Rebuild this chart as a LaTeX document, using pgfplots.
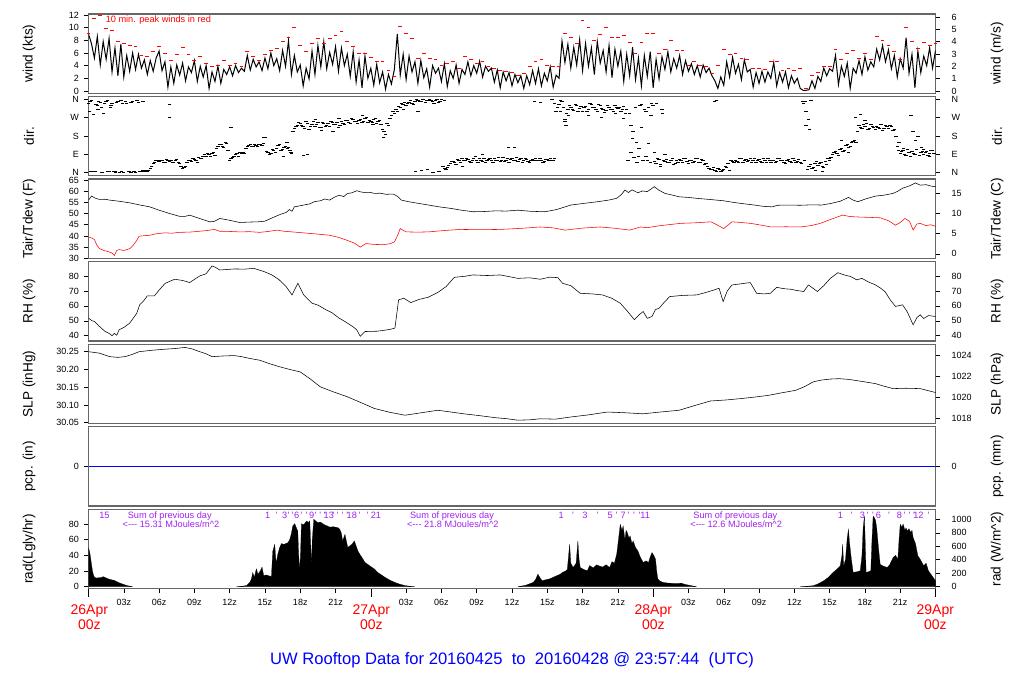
\documentclass[border=0pt]{standalone}
\usepackage{fontspec}
\setmainfont{Liberation Sans}
\usepackage{pgfplots}
\pgfplotsset{compat=1.18}
\definecolor{rpurple}{RGB}{160,32,240}
\definecolor{boxgray}{gray}{0.4}
\pgfplotsset{
  base/.style={scale only axis, width=847pt, height=79.3pt, xmin=0, xmax=72,
    anchor=south west, tick align=outside, major tick length=4.5pt,
    tick style={black, line width=0.5pt},
    ticklabel style={font=\fontsize{9}{10}\selectfont},
    label style={font=\fontsize{13.6}{15}\selectfont},
    /pgf/number format/assume math mode=true,
    /pgf/number format/1000 sep={}},
  lp/.style={base, xtick=\empty, ytick pos=left,
    axis line style={draw=boxgray, line width=1.2pt},
    yticklabel style={xshift=-1.5pt},
    xticklabel style={yshift=-3pt},
    ylabel style={at={(axis description cs:-0.0702,0.5)}, anchor=center}},
  rp/.style={base, axis x line=none, axis y line*=right, axis line style={draw=none},
    yticklabel style={xshift=8pt},
    ylabel style={at={(axis description cs:1.0726,0.5)}, anchor=center}},
}
\tikzset{pl/.style={text=rpurple, font=\fontsize{9.2}{10}\selectfont, anchor=base, inner sep=0pt}}
\begin{document}
\begin{tikzpicture}
\path[use as bounding box] (0,0) rectangle (1024pt,700pt);

% ---------------- wind
\begin{axis}[lp, at={(88.5pt,606.7pt)}, ymin=-0.37, ymax=12.16, ytick={0,2,...,12}, ylabel={wind (kts)}]
\addplot[black, line width=1.0pt] table[x expr=\coordindex*0.25, y index=0, header=false, row sep=\\] {
9.0\\ 7.5\\ 5.2\\ 8.6\\ 4.1\\ 7.8\\ 5.0\\ 8.3\\ 3.0\\ 6.8\\ 2.4\\ 7.4\\ 2.2\\ 5.6\\ 3.1\\ 6.0\\
3.4\\ 5.8\\ 3.6\\ 4.9\\ 2.6\\ 4.8\\ 3.1\\ 5.2\\ 6.3\\ 3.2\\ 4.6\\ 0.6\\ 3.8\\ 1.2\\ 4.1\\ 2.5\\
4.4\\ 1.6\\ 3.8\\ 2.9\\ 4.8\\ 1.5\\ 3.9\\ 2.2\\ 4.0\\ 0.4\\ 3.0\\ 1.5\\ 3.9\\ 1.2\\ 3.4\\ 2.6\\
3.8\\ 2.4\\ 4.0\\ 2.9\\ 3.6\\ 3.1\\ 5.6\\ 3.3\\ 5.0\\ 3.8\\ 4.6\\ 3.2\\ 5.2\\ 3.5\\ 6.0\\ 4.0\\
5.1\\ 3.2\\ 6.4\\ 3.9\\ 7.9\\ 2.6\\ 5.6\\ 3.0\\ 4.1\\ 0.8\\ 3.6\\ 1.9\\ 6.3\\ 2.6\\ 7.2\\ 3.8\\
7.8\\ 3.5\\ 6.1\\ 4.2\\ 7.0\\ 3.1\\ 6.8\\ 4.0\\ 5.8\\ 2.3\\ 6.2\\ 1.4\\ 4.9\\ 0.5\\ 5.5\\ 2.0\\
3.6\\ 0.9\\ 4.2\\ 1.3\\ 3.0\\ 0.3\\ 2.6\\ 1.1\\ 3.4\\ 9.0\\ 2.5\\ 5.8\\ 1.8\\ 5.5\\ 3.0\\ 4.6\\
1.2\\ 4.8\\ 2.1\\ 3.5\\ 0.6\\ 4.0\\ 2.8\\ 3.6\\ 1.5\\ 4.3\\ 0.7\\ 3.2\\ 2.0\\ 4.1\\ 1.2\\ 3.4\\
2.6\\ 4.6\\ 2.4\\ 4.0\\ 2.8\\ 4.7\\ 2.2\\ 3.9\\ 3.1\\ 3.6\\ 1.4\\ 3.3\\ 0.5\\ 3.0\\ 1.6\\ 2.9\\
0.8\\ 2.6\\ 1.3\\ 2.4\\ 0.4\\ 2.4\\ 1.0\\ 3.2\\ 1.2\\ 3.5\\ 0.8\\ 2.8\\ 1.6\\ 3.8\\ 0.6\\ 2.5\\
2.0\\ 7.9\\ 4.5\\ 7.4\\ 3.6\\ 6.9\\ 4.1\\ 8.1\\ 3.2\\ 7.5\\ 3.9\\ 6.8\\ 2.6\\ 7.8\\ 4.4\\ 6.4\\
3.0\\ 7.2\\ 2.1\\ 6.6\\ 3.9\\ 6.3\\ 1.5\\ 5.8\\ 2.4\\ 6.9\\ 1.8\\ 5.2\\ 0.8\\ 5.6\\ 2.3\\ 6.2\\
0.5\\ 5.0\\ 1.9\\ 5.4\\ 3.4\\ 6.2\\ 3.0\\ 5.1\\ 3.6\\ 5.6\\ 2.6\\ 4.8\\ 3.1\\ 4.3\\ 2.6\\ 4.0\\
2.2\\ 4.1\\ 2.9\\ 3.6\\ 2.4\\ 1.6\\ 0.4\\ 2.2\\ 0.9\\ 4.6\\ 2.2\\ 5.3\\ 2.8\\ 4.2\\ 1.8\\ 4.9\\
3.0\\ 3.4\\ 0.6\\ 2.9\\ 1.2\\ 3.1\\ 1.4\\ 3.0\\ 2.0\\ 4.5\\ 0.8\\ 2.9\\ 1.4\\ 3.0\\ 0.5\\ 2.4\\
1.2\\ 2.0\\ 0.4\\ 0.1\\ 0.1\\ 0.2\\ 1.6\\ 0.4\\ 2.3\\ 1.5\\ 3.6\\ 2.4\\ 3.5\\ 3.1\\ 5.6\\ 1.0\\
3.9\\ 2.3\\ 4.4\\ 0.4\\ 3.6\\ 2.8\\ 4.8\\ 2.6\\ 5.4\\ 3.3\\ 4.6\\ 3.8\\ 6.6\\ 4.9\\ 7.2\\ 4.6\\
6.5\\ 3.5\\ 5.6\\ 2.2\\ 5.1\\ 3.6\\ 8.4\\ 2.8\\ 5.8\\ 0.5\\ 6.3\\ 2.9\\ 5.5\\ 4.0\\ 6.8\\ 3.6\\
6.4\\
};
\addplot[red, only marks, mark=-, mark size=1.9pt, mark options={line width=0.9pt}] table[x expr=\coordindex*0.5, y index=0, header=false, row sep=\\] {
9.1\\ 11.5\\ 11.9\\ 9.8\\ 9.6\\ 7.8\\ 7.5\\ 7.2\\ 7.0\\ 5.6\\
5.4\\ 6.2\\ 7.0\\ 6.0\\ 4.8\\ 5.7\\ 6.9\\ 5.7\\ 4.8\\ 5.5\\
4.3\\ 3.8\\ 4.1\\ 4.8\\ 4.1\\ 4.3\\ 3.8\\ 6.2\\ 5.4\\ 4.8\\
5.7\\ 6.4\\ 6.7\\ 7.8\\ 8.5\\ 10.0\\ 7.2\\ 6.2\\ 7.5\\ 8.3\\
7.5\\ 8.3\\ 8.8\\ 9.4\\ 7.8\\ 7.0\\ 5.9\\ 6.0\\ 5.3\\ 4.6\\
4.6\\ 3.2\\ 2.3\\ 10.2\\ 9.1\\ 8.3\\ 5.1\\ 5.9\\ 5.1\\ 4.9\\
4.1\\ 4.3\\ 4.6\\ 3.6\\ 5.4\\ 4.9\\ 4.3\\ 4.7\\ 3.8\\ 3.6\\
3.3\\ 3.1\\ 2.9\\ 2.5\\ 2.8\\ 3.8\\ 4.6\\ 4.9\\ 4.1\\ 3.8\\
3.8\\ 9.1\\ 8.5\\ 7.5\\ 11.1\\ 10.1\\ 8.0\\ 9.0\\ 10.1\\ 8.5\\
8.5\\ 8.7\\ 7.6\\ 5.9\\ 7.6\\ 9.1\\ 9.1\\ 5.9\\ 6.6\\ 8.0\\
6.4\\ 6.4\\ 4.1\\ 4.6\\ 4.1\\ 3.8\\ 2.8\\ 4.1\\ 6.6\\ 5.7\\
6.0\\ 5.1\\ 4.9\\ 3.6\\ 3.6\\ 3.4\\ 4.6\\ 4.6\\ 3.3\\ 3.6\\
3.3\\ 3.6\\ 0.4\\ 2.5\\ 3.0\\ 3.8\\ 3.9\\ 6.6\\ 4.9\\ 5.9\\
6.4\\ 5.1\\ 5.9\\ 4.9\\ 8.6\\ 8.0\\ 7.2\\ 6.2\\ 4.9\\ 10.0\\
7.8\\ 6.7\\ 7.6\\ 7.2\\ 7.5\\
};
\node[red, anchor=base west, inner sep=0pt, font=\fontsize{9.2}{10}\selectfont] at (axis cs:1.45,10.78) {10 min. peak winds in red};
\end{axis}
\begin{axis}[rp, at={(88.5pt,606.7pt)}, ymin=-0.19, ymax=6.256, ytick={0,1,...,6}, ylabel={wind (m/s)}]
\end{axis}

% ---------------- direction
\begin{axis}[lp, at={(88.5pt,524.15pt)}, ymin=-15.4, ymax=373.5, ytick={0,90,180,270,360}, yticklabels={N,E,S,W,N}, ylabel={dir.}]
\addplot[black, only marks, mark=-, mark size=1.7pt, mark options={line width=0.9pt}] table[x expr=\coordindex*0.25, y index=0, header=false, row sep=\\] {
340\\ 352\\ 5\\ 330\\ 345\\ 290\\ 350\\ 8\\ 338\\ 4\\ 348\\ 355\\ 3\\ 342\\ 6\\ 350\\
2\\ 345\\ 8\\ 4\\ 6\\ 20\\ 45\\ 58\\ 55\\ 60\\ 52\\ 62\\ 58\\ 50\\ 64\\ 45\\
22\\ 30\\ 60\\ 55\\ 65\\ 50\\ 72\\ 80\\ 78\\ 90\\ 95\\ 85\\ 130\\ 138\\ 125\\ 145\\
60\\ 75\\ 88\\ 80\\ 95\\ 92\\ 130\\ 140\\ 128\\ 135\\ 140\\ 132\\ 175\\ 100\\ 95\\ 110\\
120\\ 140\\ 115\\ 130\\ 125\\ 95\\ 215\\ 230\\ 240\\ 225\\ 250\\ 210\\ 235\\ 228\\ 245\\ 220\\
240\\ 232\\ 225\\ 245\\ 238\\ 220\\ 250\\ 235\\ 255\\ 240\\ 262\\ 250\\ 258\\ 245\\ 265\\ 248\\
252\\ 260\\ 242\\ 255\\ 210\\ 190\\ 230\\ 280\\ 290\\ 300\\ 320\\ 335\\ 328\\ 345\\ 340\\ 350\\
355\\ 348\\ 358\\ 352\\ 360\\ 350\\ 355\\ 345\\ 358\\ 352\\ 25\\ 45\\ 55\\ 40\\ 62\\ 70\\
58\\ 65\\ 50\\ 72\\ 60\\ 68\\ 55\\ 48\\ 65\\ 58\\ 70\\ 62\\ 55\\ 75\\ 60\\ 50\\
68\\ 62\\ 57\\ 72\\ 60\\ 66\\ 52\\ 64\\ 70\\ 58\\ 62\\ 55\\ 65\\ 72\\ 60\\ 300\\
335\\ 350\\ 250\\ 310\\ 320\\ 305\\ 330\\ 315\\ 298\\ 325\\ 310\\ 335\\ 318\\ 300\\ 328\\ 312\\
305\\ 322\\ 310\\ 330\\ 315\\ 300\\ 325\\ 310\\ 290\\ 170\\ 320\\ 80\\ 335\\ 310\\ 60\\ 50\\
330\\ 45\\ 65\\ 310\\ 55\\ 48\\ 62\\ 40\\ 58\\ 65\\ 50\\ 70\\ 45\\ 62\\ 55\\ 68\\
52\\ 60\\ 45\\ 20\\ 15\\ 10\\ 22\\ 8\\ 18\\ 25\\ 12\\ 55\\ 62\\ 50\\ 68\\ 58\\
55\\ 70\\ 60\\ 48\\ 65\\ 52\\ 58\\ 72\\ 50\\ 62\\ 55\\ 68\\ 58\\ 45\\ 64\\ 52\\
60\\ 55\\ 48\\ 350\\ 230\\ 30\\ 20\\ 45\\ 35\\ 50\\ 25\\ 42\\ 60\\ 90\\ 105\\ 85\\
120\\ 110\\ 140\\ 130\\ 155\\ 150\\ 230\\ 215\\ 225\\ 210\\ 235\\ 220\\ 228\\ 215\\ 205\\ 232\\
218\\ 225\\ 210\\ 130\\ 95\\ 110\\ 85\\ 100\\ 105\\ 90\\ 180\\ 98\\ 88\\ 102\\ 92\\ 110\\
95\\
};
\addplot[black, only marks, mark=-, mark size=1.7pt, mark options={line width=0.9pt}] table[x expr=\coordindex*0.25+0.125, y index=0, header=false, row sep=\\] {
348\\ 6\\ 335\\ 350\\ 2\\ 340\\ 355\\ 320\\ 5\\ 345\\ 2\\ 340\\ 350\\ 8\\ 345\\ 4\\
355\\ 6\\ 350\\ 12\\ 10\\ 32\\ 50\\ 62\\ 60\\ 52\\ 66\\ 56\\ 52\\ 62\\ 48\\ 30\\
25\\ 52\\ 62\\ 68\\ 58\\ 75\\ 68\\ 88\\ 92\\ 82\\ 100\\ 120\\ 140\\ 128\\ 150\\ 110\\
68\\ 82\\ 92\\ 98\\ 100\\ 120\\ 135\\ 128\\ 140\\ 128\\ 138\\ 145\\ 105\\ 90\\ 115\\ 100\\
135\\ 110\\ 125\\ 150\\ 110\\ 200\\ 225\\ 245\\ 232\\ 215\\ 240\\ 228\\ 250\\ 238\\ 222\\ 248\\
228\\ 240\\ 252\\ 236\\ 245\\ 230\\ 242\\ 258\\ 248\\ 265\\ 252\\ 240\\ 262\\ 250\\ 270\\ 255\\
245\\ 265\\ 250\\ 238\\ 200\\ 240\\ 265\\ 300\\ 310\\ 325\\ 340\\ 345\\ 340\\ 352\\ 335\\ 358\\
350\\ 360\\ 345\\ 355\\ 352\\ 342\\ 360\\ 350\\ 30\\ 15\\ 35\\ 55\\ 48\\ 66\\ 52\\ 58\\
70\\ 55\\ 62\\ 80\\ 52\\ 62\\ 72\\ 58\\ 70\\ 52\\ 62\\ 75\\ 62\\ 55\\ 70\\ 66\\
58\\ 75\\ 64\\ 52\\ 70\\ 55\\ 62\\ 58\\ 62\\ 68\\ 50\\ 65\\ 58\\ 62\\ 70\\ 320\\
300\\ 320\\ 290\\ 330\\ 310\\ 335\\ 300\\ 325\\ 318\\ 300\\ 340\\ 322\\ 308\\ 335\\ 315\\ 295\\
328\\ 312\\ 300\\ 318\\ 322\\ 308\\ 290\\ 60\\ 230\\ 75\\ 50\\ 330\\ 60\\ 80\\ 320\\ 340\\
55\\ 70\\ 40\\ 58\\ 65\\ 52\\ 70\\ 45\\ 48\\ 60\\ 72\\ 55\\ 60\\ 50\\ 72\\ 48\\
65\\ 40\\ 30\\ 15\\ 25\\ 5\\ 18\\ 12\\ 30\\ 45\\ 62\\ 48\\ 55\\ 70\\ 52\\ 66\\
62\\ 50\\ 72\\ 58\\ 55\\ 68\\ 48\\ 62\\ 60\\ 52\\ 70\\ 58\\ 50\\ 62\\ 55\\ 68\\
52\\ 65\\ 45\\ 60\\ 15\\ 40\\ 28\\ 55\\ 45\\ 30\\ 55\\ 70\\ 75\\ 100\\ 95\\ 115\\
105\\ 135\\ 125\\ 150\\ 160\\ 200\\ 220\\ 235\\ 240\\ 215\\ 225\\ 210\\ 220\\ 235\\ 215\\ 225\\
230\\ 205\\ 180\\ 110\\ 105\\ 90\\ 115\\ 80\\ 95\\ 115\\ 85\\ 105\\ 100\\ 85\\ 110\\ 96\\
};
\addplot[black, only marks, mark=-, mark size=1.7pt, mark options={line width=0.9pt}] coordinates {
(0.2,4) (0.6,8) (1.2,3) (1.6,6) (2.3,2) (2.8,5) (3.6,3) (4.6,10) (0.1,300) (0.4,285) (0.8,310)
(1.1,320) (1.9,330) (6.9,336) (6.9,273) (12.1,224) (14.9,175) (16.3,110) (16.6,80) (16.9,120)
(17.2,100) (18.3,86) (18.6,90) (19.3,260) (19.8,205) (20.8,200) (21.3,265) (23.3,280) (24.2,235)
(25.1,175) (26.8,310) (27.8,5) (28.0,300) (28.3,10) (28.8,15) (29.3,3) (29.8,8) (30.3,20)
(31.8,30) (33.5,90) (35.7,126) (36.2,126) (37.9,350) (38.4,345) (39.4,360) (39.6,340) (40.1,355)
(40.5,260) (40.6,230) (40.8,283) (42.5,280) (43.6,270) (44.8,290) (45.5,265) (46.1,100) (46.3,200)
(46.6,150) (46.8,120) (47.0,224) (47.4,300) (47.6,145) (47.8,280) (48.1,100) (48.3,340) (48.6,30)
(48.8,290) (49.0,90) (53.2,350) (53.4,355) (60.8,340) (60.9,350) (61.0,300) (61.2,260) (61.3,210)
(61.4,355) (61.8,10) (62.4,5) (63.0,70) (64.0,160) (64.6,100) (65.2,270) (65.6,285) (66.0,258)
(68.9,150) (69.3,120) (69.9,280) (70.1,200) (70.3,160) (70.8,125) (71.0,115) (71.5,80)
};
\end{axis}
\begin{axis}[rp, at={(88.5pt,524.15pt)}, ymin=-15.4, ymax=373.5, ytick={0,90,180,270,360}, yticklabels={N,E,S,W,N}, ylabel={dir.}]
\end{axis}

% ---------------- temperature
\begin{axis}[lp, at={(88.5pt,441.6pt)}, ymin=29.96, ymax=65.4, ytick={30,35,...,65}, ylabel={Tair/Tdew (F)}]
\addplot[black, line width=0.55pt] coordinates {
(0,56.0) (0.26,57.8) (0.6,56.8) (0.94,56.3) (1.4,56.4) (1.8,56.0) (2.6,55.5) (3.5,54.8) (4.3,53.9)
(5.2,53.0) (6.0,51.5) (6.9,50.0) (7.7,48.8) (8.2,48.7) (8.6,49.3) (9.0,48.6) (9.45,47.8) (10.3,46.3)
(10.7,46.5) (11.15,47.8) (12.0,47.0) (12.85,46.0) (13.7,46.2) (14.4,46.3) (15.0,46.6) (15.8,48.5)
(16.3,49.6) (16.8,50.5) (17.1,51.8) (17.3,51.0) (17.5,53.0) (18.3,53.8) (18.8,54.3) (19.2,55.3)
(19.7,55.7) (20.1,56.5) (20.5,56.0) (20.9,57.3) (21.3,58.2) (21.7,57.6) (22.0,58.9) (22.4,59.3)
(22.8,60.2) (23.2,59.6) (23.6,59.3) (24.0,59.4) (24.3,59.0) (24.8,59.1) (25.3,58.6) (25.9,58.7)
(26.3,57.6) (26.6,56.0) (27.3,55.2) (28.1,54.5) (28.9,53.8) (29.8,53.0) (30.8,52.3) (31.7,51.5)
(32.7,50.8) (33.6,50.9) (34.6,51.2) (35.5,51.1) (36.5,51.5) (37.6,51.0) (38.8,50.8) (39.8,51.8)
(41.0,53.8) (42.2,54.6) (43.3,55.3) (44.2,56.0) (44.9,56.8) (45.3,58.5) (45.6,60.5) (45.9,59.4)
(46.2,60.6) (46.7,59.3) (47.1,60.1) (47.5,59.8) (48.1,62.0) (48.5,60.4) (49.0,59.0) (49.6,58.3)
(50.2,57.5) (51.0,57.2) (51.7,56.8) (52.8,56.3) (54.0,55.7) (54.8,55.0) (55.5,54.5) (56.6,53.8)
(57.4,53.2) (58.1,53.0) (58.6,53.7) (59.3,53.8) (60.5,53.7) (61.5,53.9) (62.3,53.8) (63.1,54.5)
(63.9,55.5) (64.6,57.2) (65.0,56.0) (65.4,55.3) (66.1,56.6) (66.9,57.8) (67.6,58.2) (68.4,59.0)
(68.8,60.0) (69.2,61.3) (69.8,62.4) (70.3,63.7) (70.7,62.7) (71.2,62.9) (71.6,62.3) (72.0,62.0)
};
\addplot[red, line width=0.55pt] coordinates {
(0,39.6) (0.3,39.0) (0.5,38.4) (0.7,36.0) (0.94,34.3) (1.3,33.5) (1.8,32.8) (2.0,32.3) (2.2,31.3)
(2.4,33.5) (2.6,33.9) (3.0,33.5) (3.5,34.3) (3.8,35.8) (4.1,38.0) (4.3,39.9) (5.2,40.3) (5.8,41.0)
(6.5,41.4) (7.1,41.2) (7.7,41.6) (8.6,41.7) (9.45,42.1) (10.1,42.4) (10.7,42.9) (11.15,42.1)
(12.0,42.0) (12.85,41.8) (13.7,41.9) (14.55,41.6) (15.3,42.0) (16.0,42.6) (16.6,42.1) (17.3,41.8)
(18.2,41.4) (19.3,40.9) (20.5,40.3) (21.3,39.3) (22.0,38.0) (22.6,36.8) (23.1,35.0) (23.6,36.6)
(24.3,36.2) (25.1,36.1) (25.6,36.5) (26.0,37.3) (26.3,40.5) (26.5,43.3) (27.0,41.8) (28.0,41.7)
(28.9,41.8) (30.2,42.4) (31.6,42.9) (33.3,42.8) (35.0,42.9) (36.8,43.4) (38.4,44.0) (39.5,43.6)
(40.5,42.6) (42.0,43.5) (43.5,44.0) (44.8,43.4) (46.0,42.6) (46.4,43.2) (46.9,44.0) (47.5,43.7)
(48.6,44.6) (50.3,45.6) (51.7,45.9) (52.9,46.3) (53.4,45.0) (54.0,43.3) (54.4,45.0) (54.7,46.3)
(55.5,46.0) (56.3,45.6) (57.2,44.8) (58.0,44.0) (59.3,44.1) (60.5,44.0) (61.4,44.6) (62.2,45.6)
(63.2,47.6) (64.1,49.3) (64.7,48.7) (65.2,48.5) (66.3,48.3) (67.3,48.1) (68.0,46.8) (68.6,44.8)
(69.0,46.0) (69.4,47.8) (69.8,46.5) (70.1,42.6) (70.4,45.3) (70.7,45.6) (71.2,44.6) (71.6,45.0)
(72.0,44.3)
};
\end{axis}
\begin{axis}[rp, at={(88.5pt,441.6pt)}, ymin=-1.133, ymax=18.556, ytick={0,5,10,15}, ylabel={Tair/Tdew (C)}]
\end{axis}

% ---------------- RH
\begin{axis}[lp, at={(88.5pt,359.05pt)}, ymin=36.5, ymax=89.6, ytick={40,50,...,80}, ylabel={RH (\%)}]
\addplot[black, line width=0.55pt] coordinates {
(0,51.8) (0.3,50.0) (0.5,49.6) (0.7,48.0) (0.94,46.2) (1.4,42.9) (1.8,41.3) (2.0,40.0) (2.2,41.5)
(2.4,40.3) (2.6,44.0) (3.0,45.5) (3.5,48.4) (4.1,55.0) (4.35,60.7) (4.7,63.5) (5.0,66.7) (5.6,66.7)
(6.0,70.5) (6.5,75.0) (7.32,77.8) (8.0,77.0) (8.6,75.6) (9.45,80.0) (10.0,81.5) (10.5,86.7)
(10.8,85.8) (11.15,84.0) (12.4,84.7) (13.3,84.6) (14.05,85.1) (14.9,83.0) (15.6,80.7) (16.2,77.5)
(16.8,72.9) (17.3,67.3) (17.8,75.1) (18.3,67.3) (19.0,61.8) (19.5,60.5) (20.2,57.3) (20.7,55.4)
(21.3,51.8) (21.8,49.5) (22.45,46.2) (22.8,44.0) (23.1,39.6) (23.5,42.8) (23.96,42.9) (24.5,43.0)
(25.1,43.6) (25.6,44.2) (26.05,45.1) (26.36,64.0) (26.8,65.1) (27.4,62.2) (28.1,64.3) (28.9,65.8)
(29.7,69.0) (30.4,72.9) (31.1,79.1) (32.0,79.8) (32.7,80.7) (33.9,80.3) (35.0,80.7) (35.8,79.5)
(36.5,78.4) (37.5,78.8) (38.4,77.8) (39.2,79.2) (39.9,78.9) (40.3,75.1) (41.0,73.5) (41.8,68.4)
(42.8,68.0) (43.7,67.3) (44.5,65.0) (45.2,61.8) (45.8,56.5) (46.4,50.7) (46.8,54.0) (47.15,56.2)
(47.5,51.6) (47.9,52.9) (48.2,57.5) (48.5,58.4) (48.9,62.0) (49.4,66.2) (50.5,67.0) (51.7,67.3)
(52.5,69.0) (53.2,70.7) (53.6,71.8) (53.95,62.9) (54.3,70.0) (54.7,74.0) (55.5,74.8) (56.25,75.6)
(56.8,68.4) (57.4,68.0) (57.96,68.4) (58.5,72.4) (59.1,71.5) (59.7,71.1) (60.2,70.3) (60.8,69.6)
(61.2,74.0) (61.96,69.6) (62.5,73.5) (63.06,78.4) (63.7,82.2) (64.2,80.8) (64.8,79.6) (65.3,77.4)
(65.75,78.4) (66.3,76.0) (66.9,74.0) (67.3,72.0) (67.7,69.6) (68.2,63.5) (68.6,59.6) (69.2,60.7)
(69.6,56.0) (70.1,47.3) (70.4,52.0) (70.7,54.0) (71.0,51.5) (71.4,53.5) (72.0,52.9)
};
\end{axis}
\begin{axis}[rp, at={(88.5pt,359.05pt)}, ymin=36.5, ymax=89.6, ytick={40,50,...,80}, ylabel={RH (\%)}]
\end{axis}

% ---------------- SLP
\begin{axis}[lp, at={(88.5pt,276.5pt)}, ymin=30.0477, ymax=30.2711, ytick={30.05,30.10,30.15,30.20,30.25},
  yticklabel style={/pgf/number format/.cd, fixed, fixed zerofill, precision=2}, ylabel={SLP (inHg)}]
\addplot[black, line width=0.55pt] coordinates {
(0,30.250) (0.9,30.246) (1.8,30.236) (2.5,30.234) (3.1,30.236) (3.7,30.242) (4.3,30.250) (5.4,30.254)
(6.5,30.257) (7.4,30.259) (8.2,30.262) (8.8,30.258) (9.45,30.250) (10.0,30.244) (10.5,30.236)
(11.5,30.238) (12.4,30.239) (13.0,30.236) (13.7,30.231) (14.55,30.226) (15.4,30.216) (16.3,30.207)
(17.1,30.200) (18.0,30.193) (18.9,30.172) (19.7,30.151) (20.8,30.137) (22.0,30.123) (23.2,30.106)
(24.3,30.090) (25.5,30.080) (26.9,30.071) (28.3,30.078) (29.7,30.085) (30.8,30.080) (31.9,30.075)
(33.2,30.070) (34.6,30.064) (35.6,30.061) (36.5,30.057) (37.5,30.058) (38.4,30.061) (39.7,30.060)
(41.0,30.066) (42.5,30.072) (44.1,30.080) (45.6,30.078) (47.15,30.075) (48.6,30.080) (50.2,30.085)
(51.5,30.098) (52.85,30.111) (54.2,30.114) (55.5,30.118) (56.6,30.122) (57.8,30.127) (58.9,30.134)
(60.1,30.141) (60.9,30.152) (61.6,30.165) (62.3,30.170) (63.1,30.173) (63.8,30.174) (64.6,30.172)
(65.8,30.166) (66.9,30.160) (67.6,30.153) (68.4,30.146) (69.5,30.147) (70.7,30.146) (71.4,30.140)
(72.0,30.135)
};
\end{axis}
\begin{axis}[rp, at={(88.5pt,276.5pt)}, ymin=1017.53, ymax=1025.10, ytick={1018,1020,1022,1024}, ylabel={SLP (hPa)}]
\end{axis}

% ---------------- precipitation
\begin{axis}[lp, at={(88.5pt,193.95pt)}, ymin=-1, ymax=1, ytick={0}, ylabel={pcp. (in)}]
\addplot[blue, line width=0.6pt] coordinates {(0,0) (72,0)};
\end{axis}
\begin{axis}[rp, at={(88.5pt,193.95pt)}, ymin=-1, ymax=1, ytick={0}, ylabel={pcp. (mm)}]
\end{axis}

% ---------------- radiation
\begin{axis}[lp, at={(88.5pt,111.4pt)}, ymin=-2.42, ymax=98.76, ytick={0,20,...,80}, ylabel={rad(Lgly/hr)},
  xtick={3,6,9,12,15,18,21,27,30,33,36,39,42,45,51,54,57,60,63,66,69},
  xticklabels={03z,06z,09z,12z,15z,18z,21z,03z,06z,09z,12z,15z,18z,21z,03z,06z,09z,12z,15z,18z,21z},
  xtick pos=bottom,
  extra x ticks={0,24,48,72}, extra x tick labels={}, extra x tick style={major tick length=8pt}]
\addplot[fill=black, draw=black, line width=0.2pt] coordinates {
(0,50) (0.09,45) (0.17,38) (0.23,31) (0.34,20) (0.42,15) (0.51,12) (0.7,11) (0.9,11.5) (1.08,11.8)
(1.28,12.8) (1.45,11.5) (1.6,10.5) (1.9,9) (2.2,8) (2.6,5) (3.06,2.5) (3.4,1) (3.75,0)
} \closedcycle;
\addplot[fill=black, draw=black, line width=0.2pt] coordinates {
(12.57,0) (13.0,0.5) (13.45,1.5) (13.7,5.4) (13.85,10) (13.96,18) (14.1,12) (14.27,23) (14.4,16)
(14.6,20) (14.75,25) (14.9,14) (15.1,15) (15.3,14) (15.55,13) (15.66,45) (15.83,54) (15.95,30)
(16.1,42) (16.25,50) (16.4,55) (16.6,54) (16.94,56) (17.1,60) (17.25,68) (17.36,77.5) (17.53,80.4)
(17.7,74) (17.79,71) (17.87,40) (17.96,20) (18.04,50) (18.1,80.4) (18.3,79) (18.53,83.8) (18.7,82)
(18.81,84) (18.9,50) (18.95,24.5) (19.02,60) (19.15,86) (19.3,84) (19.49,81.7) (19.7,82.5)
(20.09,78.7) (20.3,77.5) (20.5,76) (20.8,76.5) (21.2,75.4) (21.36,73.3) (21.5,68) (21.6,58.4)
(21.8,66.9) (22.04,50) (22.2,52) (22.4,54.2) (22.6,58.4) (22.75,52) (22.9,45.7) (23.06,41.5)
(23.3,36) (23.5,31) (23.9,26.7) (24.3,22.6) (24.6,18) (25.0,14) (25.2,12) (25.6,8.5) (26.0,5.7)
(26.4,3.5) (26.9,1.5) (27.3,0.6) (27.74,0)
} \closedcycle;
\addplot[fill=black, draw=black, line width=0.2pt] coordinates {
(36.5,0) (37.2,2) (37.8,5.5) (38.0,9) (38.2,16) (38.4,11) (38.55,7.6) (38.9,9) (39.2,10) (39.5,12)
(39.8,14) (40.1,16) (40.3,18.3) (40.55,20) (40.7,22) (40.9,54) (41.0,30) (41.2,24.5) (41.45,30)
(41.6,58.4) (41.7,35) (41.8,24.5) (42.1,22) (42.4,20.3) (42.6,27) (42.9,24) (43.2,27.9) (43.5,26)
(43.7,25) (44.0,28) (44.3,24.5) (44.5,32) (44.7,30) (44.9,41.5) (45.05,60) (45.2,79.6) (45.35,72)
(45.45,77.5) (45.6,60) (45.7,72) (45.8,69) (45.95,62) (46.04,64.8) (46.2,55) (46.3,58.4) (46.5,50)
(46.7,45.7) (46.9,38) (47.15,30.9) (47.4,33) (47.6,30.9) (47.75,38) (47.9,43.6) (48.05,40)
(48.2,35.1) (48.3,20) (48.4,9.7) (48.6,7) (48.85,5.5) (49.3,4.5) (50.0,4.2) (50.4,4.5) (50.7,3)
(51.2,1.5) (51.7,0)
} \closedcycle;
\addplot[fill=black, draw=black, line width=0.2pt] coordinates {
(60.5,0) (61.0,0.5) (61.6,1.3) (62.0,3.5) (62.5,7.6) (62.9,12) (63.3,18.3) (63.6,22) (63.9,26.7)
(64.05,40) (64.1,54.2) (64.2,26.7) (64.35,35) (64.5,62.6) (64.6,73.3) (64.7,55) (64.85,35)
(65.0,18.3) (65.3,19) (65.6,20.3) (65.75,40) (65.85,75.4) (65.96,90.2) (66.02,60) (66.1,18.3)
(66.3,19) (66.5,20.3) (66.6,60) (66.7,90.2) (66.8,88) (66.9,85) (67.0,75.4) (67.15,50) (67.3,28.4)
(67.6,26) (67.9,24.5) (68.1,28) (68.4,37.3) (68.6,40) (68.8,35.1) (68.9,60) (69.0,79.6) (69.15,76)
(69.25,80) (69.4,72) (69.5,75) (69.6,71.1) (69.75,74) (69.9,69) (70.0,72) (70.1,62.6) (70.3,55)
(70.5,39.4) (70.7,35) (71.0,26.7) (71.2,30) (71.4,20.3) (71.7,14) (72.0,7.6)
} \closedcycle;
% purple annotations
\node[pl] at (axis cs:1.36,87.5) {15};
\node[pl, anchor=base west] at (axis cs:3.32,87.5) {Sum of previous day};
\node[pl, anchor=base west] at (axis cs:2.89,75.5) {<-{}-{}- 15.31 MJoules/m\textasciicircum 2};
\node[pl, anchor=base west] at (axis cs:27.32,87.5) {Sum of previous day};
\node[pl, anchor=base west] at (axis cs:27.06,75.5) {<-{}-{}- 21.8 MJoules/m\textasciicircum 2};
\node[pl, anchor=base west] at (axis cs:51.40,87.5) {Sum of previous day};
\node[pl, anchor=base west] at (axis cs:51.15,75.5) {<-{}-{}- 12.6 MJoules/m\textasciicircum 2};
\node[pl] at (axis cs:15.23,87.5) {1};
\node[pl] at (axis cs:16.68,87.5) {3};
\node[pl] at (axis cs:17.70,87.5) {6};
\node[pl] at (axis cs:18.98,87.5) {9};
\node[pl] at (axis cs:20.43,87.5) {13};
\node[pl] at (axis cs:22.38,87.5) {18};
\node[pl] at (axis cs:24.43,87.5) {21};
\node[pl] at (axis cs:40.17,87.5) {1};
\node[pl] at (axis cs:42.21,87.5) {3};
\node[pl] at (axis cs:44.34,87.5) {5};
\node[pl] at (axis cs:45.45,87.5) {7};
\node[pl] at (axis cs:47.32,87.5) {11};
\node[pl] at (axis cs:63.91,87.5) {1};
\node[pl] at (axis cs:65.79,87.5) {3};
\node[pl] at (axis cs:67.15,87.5) {6};
\node[pl] at (axis cs:68.94,87.5) {8};
\node[pl] at (axis cs:70.55,87.5) {12};
\pgfplotsinvokeforeach{16.0,17.02,17.36,18.13,18.55,19.32,19.70,20.09,20.82,21.19,21.62,21.99,23.06,23.74,41.19,43.28,44.89,45.91,46.38,46.85,64.85,66.21,66.68,68.04,69.36,69.79,70.17,71.4}
  {\node[pl] at (axis cs:#1,87.5) {\textquotesingle};}
\end{axis}
\begin{axis}[rp, at={(88.5pt,111.4pt)}, ymin=-28.1, ymax=1148.6, ytick={0,200,...,1000}, ylabel={rad (W/m\textasciicircum 2)}]
\end{axis}

% date labels and title
\foreach \xx/\dd in {89.3/26Apr, 371.3/27Apr, 653.3/28Apr, 935.3/29Apr} {
  \node[red, anchor=base, inner sep=0pt, font=\fontsize{14}{16}\selectfont] at (\xx pt,85pt) {\dd};
  \node[red, anchor=base, inner sep=0pt, font=\fontsize{14}{16}\selectfont] at (\xx pt,70pt) {00z};
}
\node[blue, anchor=base, inner sep=0pt, font=\fontsize{16.6}{19}\selectfont] at (512pt,35pt)
  {UW Rooftop Data for 20160425\ \ to\ \ 20160428 @ 23:57:44\ \ (UTC)};
\end{tikzpicture}
\end{document}
